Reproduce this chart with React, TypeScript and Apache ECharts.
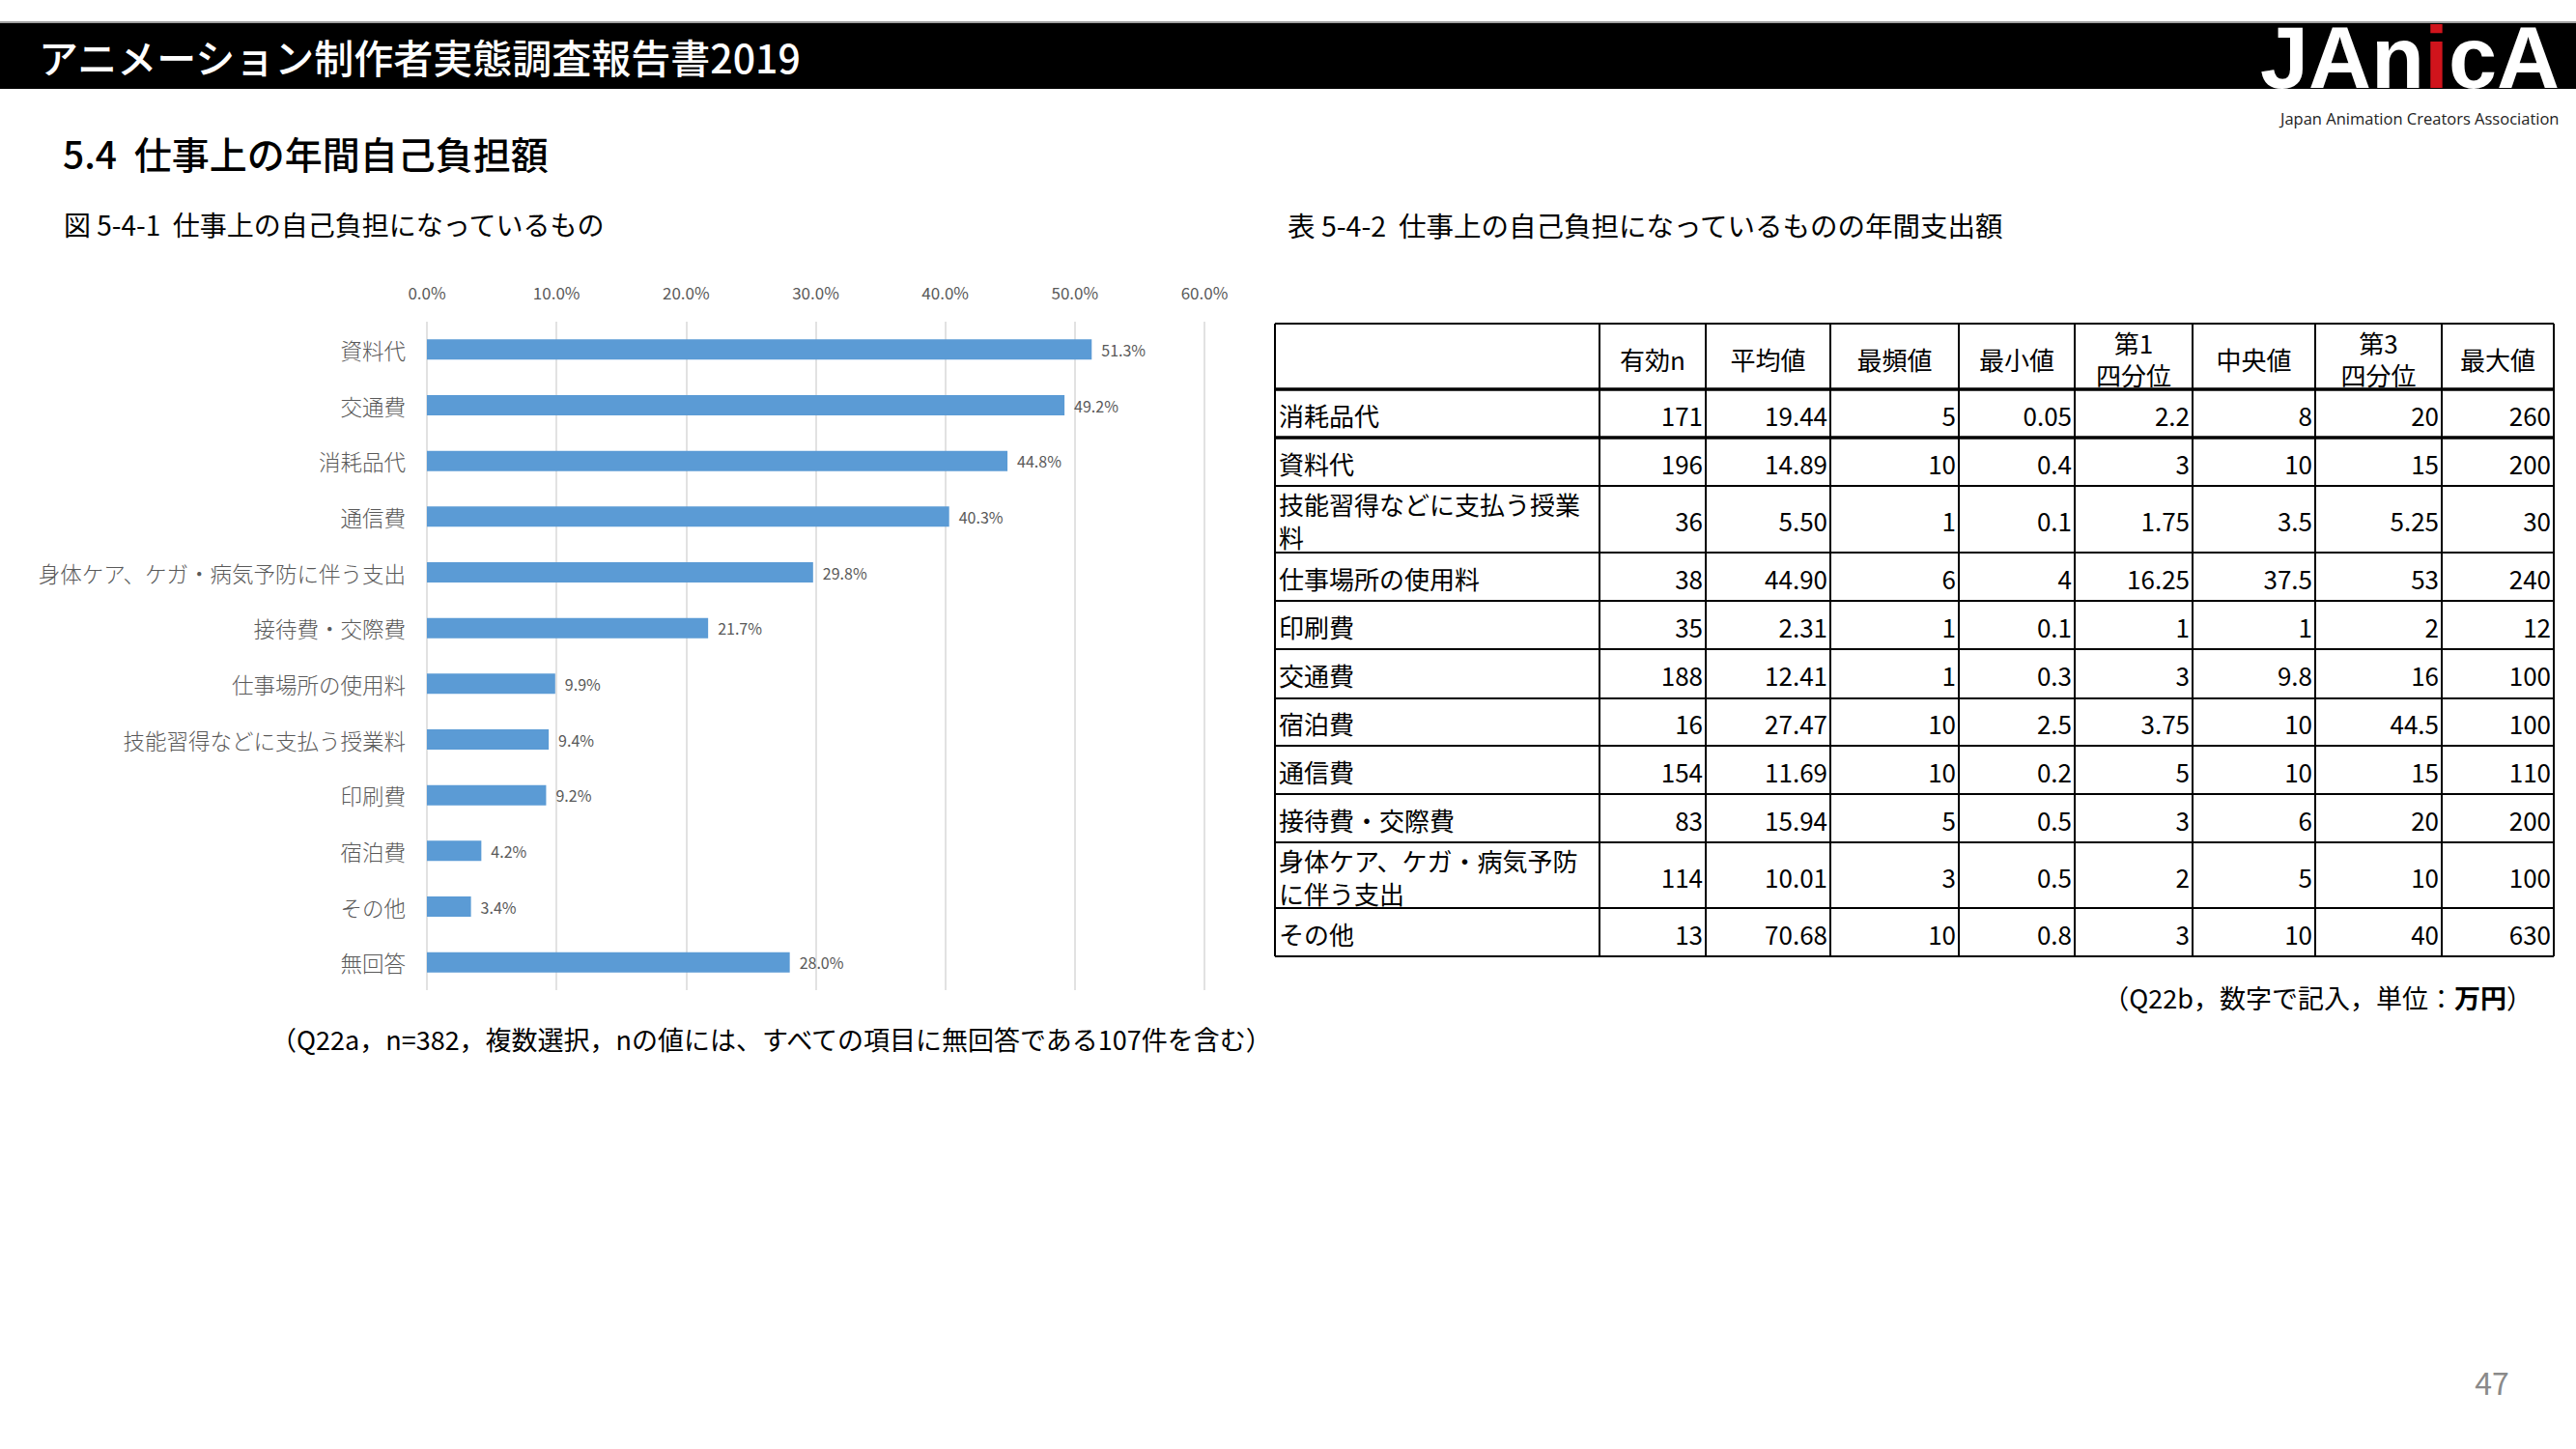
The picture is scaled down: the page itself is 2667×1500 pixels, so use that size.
import React, { useEffect, useRef } from "react";
import * as echarts from "echarts";

// ---- Bar chart data (図 5-4-1) ----
const barCategories = [
  "資料代",
  "交通費",
  "消耗品代",
  "通信費",
  "身体ケア、ケガ・病気予防に伴う支出",
  "接待費・交際費",
  "仕事場所の使用料",
  "技能習得などに支払う授業料",
  "印刷費",
  "宿泊費",
  "その他",
  "無回答",
];
const barValues = [51.3, 49.2, 44.8, 40.3, 29.8, 21.7, 9.9, 9.4, 9.2, 4.2, 3.4, 28.0];
const axisMin = 0;
const axisMax = 60;
const axisInterval = 10;

// ---- Table data (表 5-4-2) ----
const tableHeaders = ["有効n", "平均値", "最頻値", "最小値", "第1\n四分位", "中央値", "第3\n四分位", "最大値"];
const tableRows = [
  "消耗品代",
  "資料代",
  "技能習得などに支払う授業料",
  "仕事場所の使用料",
  "印刷費",
  "交通費",
  "宿泊費",
  "通信費",
  "接待費・交際費",
  "身体ケア、ケガ・病気予防に伴う支出",
  "その他",
];
const validN = [171, 196, 36, 38, 35, 188, 16, 154, 83, 114, 13];
const meanValues = [19.44, 14.89, 5.5, 44.9, 2.31, 12.41, 27.47, 11.69, 15.94, 10.01, 70.68];
const modeValues = [5, 10, 1, 6, 1, 1, 10, 10, 5, 3, 10];
const minValues = [0.05, 0.4, 0.1, 4, 0.1, 0.3, 2.5, 0.2, 0.5, 0.5, 0.8];
const q1Values = [2.2, 3, 1.75, 16.25, 1, 3, 3.75, 5, 3, 2, 3];
const medianValues = [8, 10, 3.5, 37.5, 1, 9.8, 10, 10, 6, 5, 10];
const q3Values = [20, 15, 5.25, 53, 2, 16, 44.5, 15, 20, 10, 40];
const maxValues = [260, 200, 30, 240, 12, 100, 100, 110, 200, 100, 630];

// ---- Texts ----
const pageTitle = "アニメーション制作者実態調査報告書2019";
const sectionTitle = "5.4  仕事上の年間自己負担額";
const figTitle = "図 5-4-1  仕事上の自己負担になっているもの";
const tableTitle = "表 5-4-2  仕事上の自己負担になっているものの年間支出額";
const figNote = "（Q22a，n=382，複数選択，nの値には、すべての項目に無回答である107件を含む）";
const tableNotePre = "（Q22b，数字で記入，単位：";
const tableNoteUnit = "万円";
const tableNotePost = "）";
const pageNumber = "47";
const logoSub = "Japan Animation Creators Association";

// layout (table grid positions)
const colX = [1320, 1656, 1766, 1895, 2028, 2148, 2270, 2397, 2528, 2644];
const rowY = [335, 403, 453, 503, 572, 622, 672, 723, 772, 822, 872, 940, 990];
const labelCharsPerLine = 12;

const FONT = '"Noto Sans CJK JP", "Noto Sans", sans-serif';
const LOGO_FONT = '"Liberation Sans", Arial, sans-serif';

function txt(text: string, x: number, y: number, size: number, o: any = {}) {
  return {
    type: "text",
    silent: true,
    style: {
      text,
      x,
      y,
      fill: o.fill ?? "#000",
      fontSize: size,
      fontFamily: o.family ?? FONT,
      fontWeight: o.weight ?? 400,
      textAlign: o.align ?? "left",
      align: o.align ?? "left",
      textVerticalAlign: o.valign ?? "middle",
      verticalAlign: o.valign ?? "middle",
      ...(o.extra || {}),
    },
  };
}

function wrapLabel(s: string) {
  return s.length > labelCharsPerLine ? s.slice(0, labelCharsPerLine) + "\n" + s.slice(labelCharsPerLine) : s;
}

export default function App() {
  const ref = useRef<HTMLDivElement>(null);

  useEffect(() => {
    const chart = echarts.init(ref.current!, null, { renderer: "svg" });

    const g: any[] = [];
    // header
    g.push({ type: "rect", silent: true, shape: { x: 0, y: 22, width: 2667, height: 3 }, style: { fill: "#a0a0a0" } });
    g.push({ type: "rect", silent: true, shape: { x: 0, y: 24, width: 2667, height: 68 }, style: { fill: "#000" } });
    g.push(txt(pageTitle, 40, 58, 41, { fill: "#fff", weight: 500 }));
    // logo
    g.push({
      type: "text",
      silent: true,
      style: {
        text: "{w|JAn}{r|i}{w|cA}",
        x: 2340,
        y: 60,
        textAlign: "left",
        align: "left",
        textVerticalAlign: "middle",
        verticalAlign: "middle",
        fontSize: 90,
        lineHeight: 66,
        fontFamily: LOGO_FONT,
        fontWeight: 700,
        rich: {
          w: { fill: "#fff", fontSize: 90, lineHeight: 66, fontWeight: 700, fontFamily: LOGO_FONT },
          r: { fill: "#d0141c", fontSize: 90, lineHeight: 66, fontWeight: 700, fontFamily: LOGO_FONT },
        },
      },
    });
    g.push(txt(logoSub, 2361, 122, 16.5, { fill: "#222", family: '"Open Sans", sans-serif' }));

    // section & figure titles
    g.push(txt(sectionTitle, 65, 158, 39, { weight: 500 }));
    g.push(txt(figTitle, 66, 232, 28));
    g.push(txt(tableTitle, 1333, 232, 28.5));

    // notes
    g.push(txt(figNote, 280, 1075, 27));
    g.push({
      type: "text",
      silent: true,
      style: {
        text: `{n|${tableNotePre}}{b|${tableNoteUnit}}{n|${tableNotePost}}`,
        x: 2622,
        y: 1032,
        textAlign: "right",
        align: "right",
        textVerticalAlign: "middle",
        verticalAlign: "middle",
        fontSize: 27,
        fontFamily: FONT,
        rich: {
          n: { fontSize: 27, fontFamily: FONT, fill: "#000" },
          b: { fontSize: 27, fontFamily: FONT, fill: "#000", fontWeight: 700 },
        },
      },
    });
    g.push(txt(pageNumber, 2580, 1430, 32, { fill: "#8a8a8a", align: "center" }));

    // table lines
    const left = colX[0];
    const right = colX[colX.length - 1];
    const top = rowY[0];
    const bottom = rowY[rowY.length - 1];
    rowY.forEach((y, i) => {
      const w = i === 1 || i === 2 ? 3.5 : 2;
      g.push({ type: "line", silent: true, shape: { x1: left, y1: y, x2: right, y2: y }, style: { stroke: "#000", lineWidth: w } });
    });
    colX.forEach((x) => {
      g.push({ type: "line", silent: true, shape: { x1: x, y1: top, x2: x, y2: bottom }, style: { stroke: "#000", lineWidth: 2 } });
    });

    // header cells
    tableHeaders.forEach((h, c) => {
      const cx = (colX[c + 1] + colX[c + 2]) / 2;
      const cy = (rowY[0] + rowY[1]) / 2 + 2;
      g.push(txt(h, cx, cy, 26, { align: "center", extra: { lineHeight: 33 } }));
    });

    const columns: string[][] = [
      validN.map(String),
      meanValues.map((v) => v.toFixed(2)),
      modeValues.map(String),
      minValues.map(String),
      q1Values.map(String),
      medianValues.map(String),
      q3Values.map(String),
      maxValues.map(String),
    ];

    tableRows.forEach((name, r) => {
      const cy = (rowY[r + 1] + rowY[r + 2]) / 2 + 1;
      g.push(txt(wrapLabel(name), colX[0] + 4, cy, 26, { extra: { lineHeight: 34 } }));
      columns.forEach((col, c) => {
        g.push(txt(col[r], colX[c + 2] - 3, cy, 26, { align: "right" }));
      });
    });

    chart.setOption({
      animation: false,
      backgroundColor: "#fff",
      textStyle: { fontFamily: FONT },
      grid: { left: 442, right: 1420, top: 333, bottom: 475, containLabel: false },
      xAxis: {
        type: "value",
        position: "top",
        min: axisMin,
        max: axisMax,
        interval: axisInterval,
        axisLine: { show: false },
        axisTick: { show: false },
        axisLabel: {
          formatter: (v: number) => v.toFixed(1) + "%",
          color: "#595959",
          fontSize: 17,
          margin: 22,
          fontFamily: FONT,
        },
        splitLine: { show: true, lineStyle: { color: "#d9d9d9", width: 1.5 } },
      },
      yAxis: {
        type: "category",
        data: barCategories,
        inverse: true,
        axisLine: { show: false },
        axisTick: { show: false },
        axisLabel: { color: "#595959", fontSize: 22.5, margin: 22, fontWeight: 300, fontFamily: FONT },
      },
      series: [
        {
          type: "bar",
          data: barValues,
          barWidth: 21,
          itemStyle: { color: "#5b9bd5" },
          label: {
            show: true,
            position: "right",
            distance: 10,
            formatter: (p: any) => Number(p.value).toFixed(1) + "%",
            color: "#595959",
            fontSize: 16,
            fontFamily: FONT,
          },
        },
      ],
      graphic: { elements: g },
    });

    return () => {
      chart.dispose();
    };
  }, []);

  return (
    <div
      ref={ref}
      style={{ position: "fixed", left: 0, top: 0, width: 2667, height: 1500, background: "#fff" }}
    />
  );
}
